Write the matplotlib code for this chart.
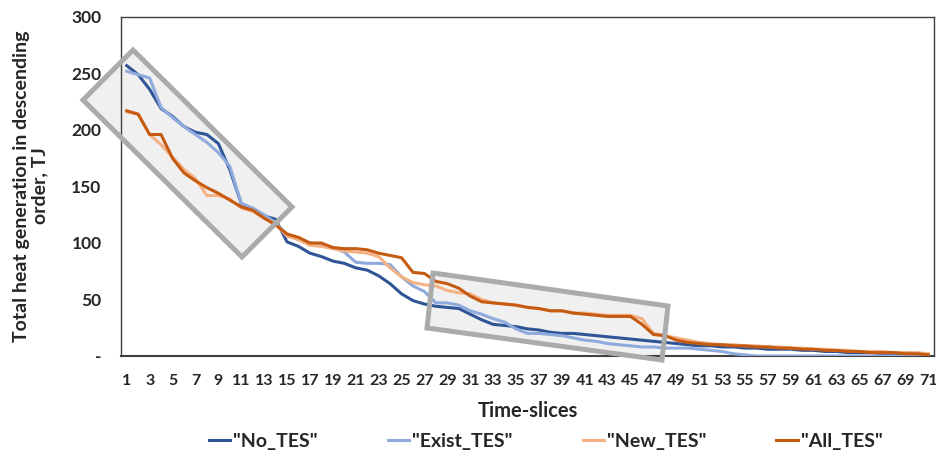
import matplotlib
matplotlib.use('Agg')
import matplotlib.pyplot as plt
from matplotlib.patches import Polygon
from matplotlib.ticker import FixedLocator, FixedFormatter

plt.rcParams['font.family'] = ['Lato', 'DejaVu Sans']
plt.rcParams['font.weight'] = 'bold'

time_slices = list(range(1, 72))

no_tes = [257, 249, 236, 219, 212, 203, 198, 196, 188, 165,
          135, 130, 124, 121, 101, 97, 91, 88, 84, 82,
          78, 76, 71, 64, 55, 49, 46, 44, 43, 42,
          37, 32, 28, 27, 26, 24, 23, 21, 20, 20,
          19, 18, 17, 16, 15, 14, 13, 12, 11, 10,
          9, 9, 8, 8, 7, 7, 6, 6, 6, 5,
          5, 4, 4, 3, 3, 3, 2, 2, 2, 1, 1]
exist_tes = [252, 249, 246, 220, 211, 203, 196, 189, 180, 168,
             135, 131, 125, 118, 107, 103, 100, 98, 96, 92,
             83, 82, 82, 81, 70, 62, 57, 47, 47, 45,
             40, 37, 33, 30, 24, 20, 20, 19, 18, 16,
             14, 13, 11, 10, 9, 8, 8, 7, 7, 7,
             6, 5, 4, 2, 1, 0, 0, 0, 0, 0,
             0, 0, 0, 0, 0, 0, 0, 0, 0, 0, 0]
new_tes = [216, 214, 196, 187, 176, 165, 157, 142, 142, 139,
           131, 128, 122, 117, 106, 103, 98, 97, 95, 93,
           92, 91, 88, 78, 70, 65, 63, 62, 58, 56,
           55, 50, 47, 46, 45, 43, 42, 40, 40, 38,
           38, 37, 36, 36, 36, 33, 20, 18, 16, 14,
           12, 11, 10, 10, 9, 9, 8, 8, 7, 7,
           6, 6, 5, 5, 4, 4, 4, 3, 3, 3, 2]
all_tes = [217, 214, 196, 196, 175, 162, 155, 149, 144, 138,
           132, 129, 122, 116, 108, 105, 100, 100, 96, 95,
           95, 94, 91, 89, 87, 74, 73, 66, 64, 60,
           53, 48, 47, 46, 45, 43, 42, 40, 40, 38,
           37, 36, 35, 35, 35, 28, 19, 18, 14, 12,
           11, 10, 10, 9, 9, 8, 8, 7, 7, 6,
           6, 5, 5, 4, 4, 3, 3, 3, 2, 2, 1]

series_names = ['"No_TES"', '"Exist_TES"', '"New_TES"', '"All_TES"']
series_colors = ['#2f5597', '#8faadc', '#f4b183', '#c55a11']

y_ticks = [0, 50, 100, 150, 200, 250, 300]
y_tick_labels = ['-', '50', '100', '150', '200', '250', '300']
x_ticks = list(range(1, 72, 2))

W, H = 936, 459
fig = plt.figure(figsize=(W / 100, H / 100), dpi=100)
ax = fig.add_axes([121 / W, 1 - 356 / H, (934 - 121) / W, (356 - 17) / H])
ax.set_facecolor('none')

for vals, name, col in zip([no_tes, exist_tes, new_tes, all_tes], series_names, series_colors):
    ax.plot(time_slices, vals, color=col, linewidth=2.2, label=name, zorder=3,
            solid_joinstyle='round')

ax.set_xlim(0.5, 71.5)
ax.set_ylim(0, 300)
ax.yaxis.set_major_locator(FixedLocator(y_ticks))
ax.yaxis.set_major_formatter(FixedFormatter(y_tick_labels))
ax.set_xticks(x_ticks)
ax.set_xticklabels([str(t) for t in x_ticks])
ax.tick_params(axis='y', length=0, pad=14, labelsize=12.5, colors='#262626')
ax.tick_params(axis='x', length=0, pad=13, labelsize=11.5, colors='#262626')
for lab in ax.get_xticklabels() + ax.get_yticklabels():
    lab.set_fontweight('bold')
for side in ['top', 'right', 'left', 'bottom']:
    ax.spines[side].set_color('#404040')
    ax.spines[side].set_linewidth(1.0)
ax.spines['bottom'].set_linewidth(1.5)

ax.set_xlabel('Time-slices', fontsize=14.5, fontweight='bold', labelpad=9, color='#262626')
fig.text(31 / W, 1 - 186 / H, 'Total heat generation in descending\norder, TJ',
         rotation=90, ha='center', va='center', multialignment='center',
         fontsize=14, fontweight='bold', color='#262626', linespacing=1.1)

# highlight boxes (figure pixel corners)
boxes = [
    [(133, 50), (292, 207), (242, 257), (83, 100)],
    [(433, 273), (668, 306), (662, 360), (427, 328)],
]
for corners in boxes:
    pts = [(x / W, 1 - y / H) for x, y in corners]
    ax.add_patch(Polygon(pts, closed=True, transform=fig.transFigure,
                         facecolor='#f0f0f0', edgecolor='none', zorder=1, clip_on=False))
    ax.add_patch(Polygon(pts, closed=True, transform=fig.transFigure,
                         facecolor='none', edgecolor='#ababab', linewidth=3.6,
                         zorder=4, clip_on=False, joinstyle='miter'))

leg = fig.legend(loc='center', bbox_to_anchor=(0.583, 1 - 441 / H), ncol=4,
                 frameon=False, fontsize=14, handlelength=1.1, handletextpad=0.15,
                 columnspacing=3.6)
for t in leg.get_texts():
    t.set_fontweight('bold')
    t.set_color('#262626')

fig.savefig('out.png', dpi=100)
